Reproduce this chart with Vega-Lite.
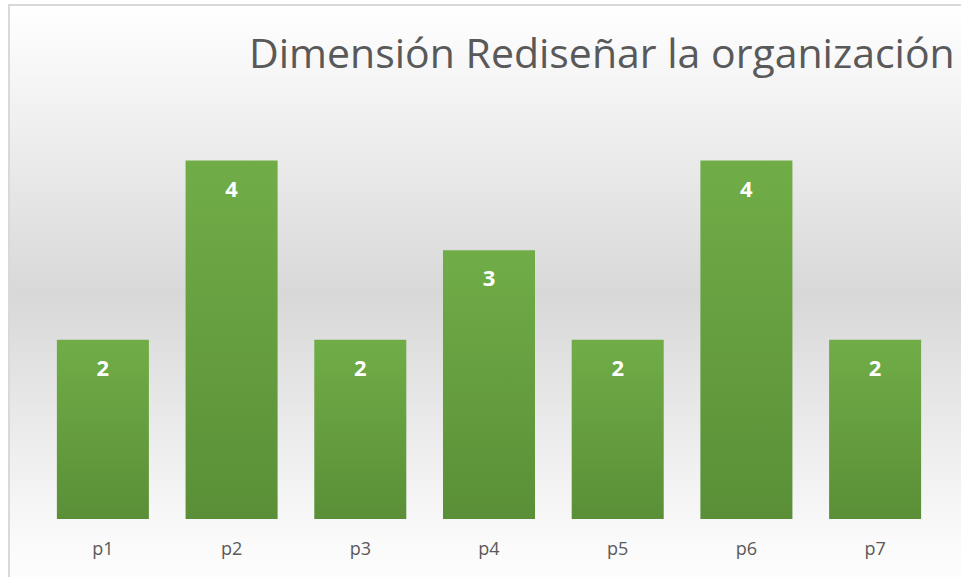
{
  "$schema": "https://vega.github.io/schema/vega-lite/v6.json",
  "autosize": "none",
  "padding": {"left": 9, "top": 5, "right": 0, "bottom": 0},
  "width": 960,
  "height": 580,
  "background": "#ffffff",
  "title": {
    "text": "Dimensión Rediseñar la organización",
    "anchor": "start",
    "frame": "group",
    "dx": 240,
    "dy": 110,
    "offset": 6,
    "baseline": "alphabetic",
    "font": "Open Sans",
    "fontSize": 41,
    "fontWeight": "normal",
    "color": "#595959"
  },
  "config": {
    "view": {
      "stroke": "#d9d9d9",
      "strokeWidth": 2,
      "fill": {
        "gradient": "linear",
        "x1": 0, "y1": 0, "x2": 0, "y2": 1,
        "stops": [
          {"offset": 0, "color": "#ffffff"},
          {"offset": 0.12, "color": "#f6f6f6"},
          {"offset": 0.5, "color": "#d8d8d8"},
          {"offset": 0.82, "color": "#f2f2f2"},
          {"offset": 0.92, "color": "#fafafa"},
          {"offset": 1, "color": "#fdfdfd"}
        ]
      }
    }
  },
  "data": {
    "values": [
      {"p": "p1", "v": 2},
      {"p": "p2", "v": 4},
      {"p": "p3", "v": 2},
      {"p": "p4", "v": 3},
      {"p": "p5", "v": 2},
      {"p": "p6", "v": 4},
      {"p": "p7", "v": 2}
    ]
  },
  "encoding": {
    "x": {
      "field": "p",
      "type": "nominal",
      "sort": null,
      "scale": {"paddingInner": 0.285, "paddingOuter": 0.372, "align": 0.5},
      "axis": {
        "title": null,
        "labelAngle": 0,
        "domain": false,
        "ticks": false,
        "offset": -66,
        "labelFont": "Open Sans",
        "labelFontSize": 18,
        "labelColor": "#595959",
        "labelPadding": 21
      }
    },
    "y": {
      "field": "v",
      "type": "quantitative",
      "scale": {"domain": [-0.737, 5.737], "nice": false, "zero": false},
      "axis": null
    }
  },
  "layer": [
    {
      "mark": {
        "type": "bar",
        "color": {
          "gradient": "linear",
          "x1": 0, "y1": 0, "x2": 0, "y2": 1,
          "stops": [
            {"offset": 0, "color": "#70ad47"},
            {"offset": 1, "color": "#5a8f37"}
          ]
        }
      }
    },
    {
      "mark": {
        "type": "text",
        "baseline": "middle",
        "dy": 29,
        "font": "Open Sans",
        "fontSize": 22,
        "fontWeight": "bold",
        "color": "#ffffff"
      },
      "encoding": {"text": {"field": "v", "type": "quantitative"}}
    }
  ]
}
